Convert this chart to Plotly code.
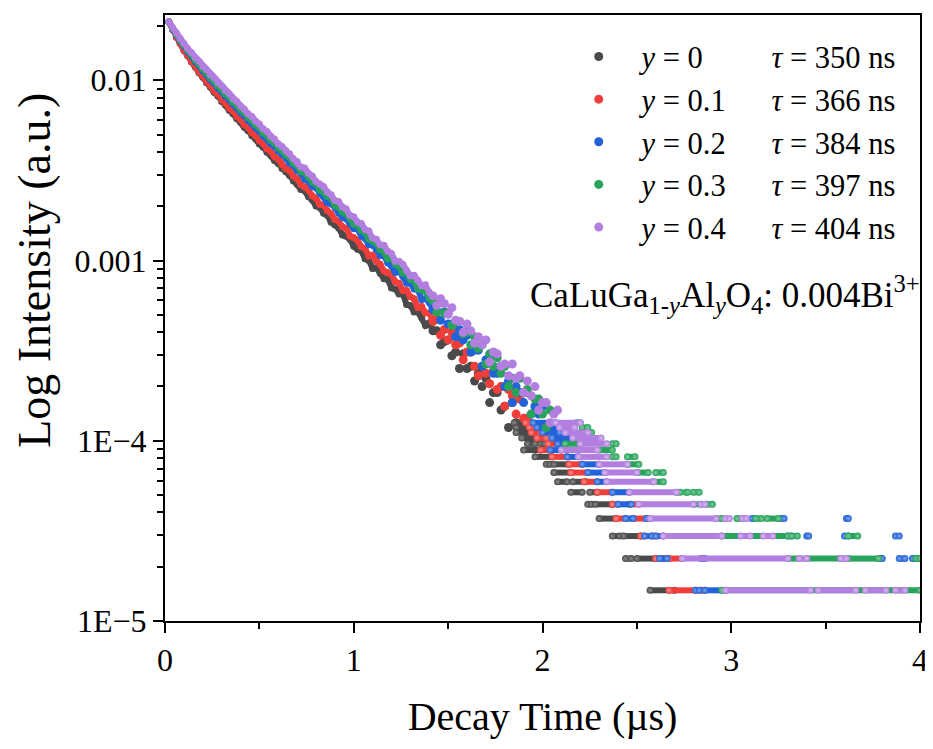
import plotly.graph_objects as go

# ---------------- data ----------------
t0_us = 0.02          # first sampled time (µs)
dt_us = 0.02          # sampling step of the dense part (µs)
count_unit = 7.4e-6   # normalised intensity of one photon count
smooth_until = 70     # index up to which the dense points merge into a ribbon

y_values = ["0", "0.1", "0.2", "0.3", "0.4"]
tau_ns = [350, 366, 384, 397, 404]
colors = ["#4a4a4a", "#ef3e3a", "#2262d8", "#27a35a", "#b27ee0"]
centers = ["#8c8c8c", "#f7908d", "#7ea3ea", "#7fcb9e", "#d8bdf0"]

# dense part: photon counts at t0 + k*dt
gray_counts = [2851, 2583, 2342, 2163, 1979, 1848, 1705, 1601, 1488, 1404, 1310, 1241, 1160, 1104, 1031, 985, 922, 881, 826, 791,
               741, 710, 666, 640, 598, 575, 539, 518, 485, 467, 437, 420, 400, 373, 358, 335, 329, 305, 293, 271, 266,
               247, 241, 220, 213, 205, 187, 184, 177, 162, 156, 153, 138, 135, 122, 123, 115, 107, 106, 95, 94,
               88, 88, 77, 76, 70, 70, 65, 59, 61, 55, 55, 46, 48, 49, 40, 42, 34, 41, 34, 35,
               29, 32, 27, 30, 22, 25, 25, 20, 21, 16, 22, 17]
red_counts = [2851, 2590, 2349, 2170, 1990, 1860, 1719, 1620, 1504, 1425, 1329, 1266, 1181, 1130, 1055, 1012, 946, 911, 851, 820,
              767, 740, 691, 668, 624, 604, 563, 546, 509, 494, 461, 437, 427, 398, 384, 357, 346, 333, 309, 299, 276,
              275, 255, 246, 228, 223, 208, 204, 185, 181, 175, 161, 157, 143, 145, 134, 129, 118, 116, 113, 103,
              101, 92, 92, 85, 83, 74, 75, 69, 69, 62, 64, 52, 56, 49, 54, 46, 47, 38, 42, 42,
              35, 31, 35, 32, 28, 33, 26, 27, 21, 26, 24, 19, 23, 18, 18]
blue_counts = [2851, 2611, 2428, 2237, 2100, 1946, 1841, 1716, 1630, 1522, 1452, 1361, 1300, 1221, 1170, 1098, 1053, 991, 951, 895,
               860, 809, 778, 733, 705, 663, 639, 600, 579, 545, 525, 500, 468, 456, 426, 413, 382, 372, 348, 342, 319,
               307, 283, 278, 267, 248, 234, 230, 217, 203, 202, 185, 179, 165, 164, 156, 144, 144, 131, 126, 116,
               118, 110, 101, 101, 94, 93, 82, 83, 79, 72, 71, 63, 70, 60, 60, 51, 56, 49, 52, 42,
               43, 43, 35, 38, 39, 32, 32, 35, 27, 29, 22, 27, 25, 22, 25, 19, 21, 19, 21]
green_counts = [2851, 2621, 2445, 2259, 2127, 1978, 1874, 1749, 1665, 1559, 1489, 1397, 1337, 1257, 1206, 1133, 1090, 1024, 986, 927,
                893, 840, 810, 762, 734, 692, 667, 628, 605, 570, 549, 520, 504, 468, 453, 421, 414, 391, 369, 360, 333,
                325, 306, 300, 273, 267, 251, 245, 230, 215, 214, 198, 193, 177, 173, 168, 155, 151, 138, 140, 129,
                125, 115, 115, 106, 105, 94, 93, 91, 83, 81, 70, 79, 69, 69, 59, 61, 62, 53, 54, 46,
                51, 44, 46, 36, 41, 35, 39, 32, 35, 27, 30, 25, 30, 25, 26, 19, 23, 23, 19, 16, 20]
purple_counts = [2851, 2640, 2476, 2300, 2171, 2028, 1926, 1805, 1720, 1615, 1545, 1452, 1393, 1310, 1259, 1185, 1139, 1072, 1032, 972,
                 936, 882, 851, 801, 772, 727, 702, 661, 638, 600, 580, 551, 529, 496, 478, 446, 441, 412, 398, 371, 359,
                 348, 324, 313, 291, 287, 268, 261, 240, 236, 221, 217, 201, 197, 180, 177, 165, 164, 152, 148, 134,
                 134, 129, 119, 111, 112, 105, 98, 99, 90, 86, 76, 83, 78, 68, 74, 63, 62, 54, 60, 55,
                 47, 51, 46, 49, 37, 42, 41, 35, 36, 31, 36, 30, 31, 25, 29, 24, 27, 20, 22, 22, 17, 19, 20]

# quantised tail: (count level, first time µs, last time µs) of each visible run of points
gray_tail = [(17, 1.85, 1.92), (16, 1.86, 1.93), (15, 1.86, 1.96), (14, 1.89, 1.98), (13, 1.92, 1.96), (13, 1.99, 2.01),
             (12, 1.90, 1.99), (11, 1.96, 2.05), (10, 2.02, 2.04), (10, 2.06, 2.14), (9, 2.06, 2.15), (8, 2.08, 2.13),
             (8, 2.16, 2.23), (7, 2.15, 2.21), (7, 2.25, 2.29), (6, 2.24, 2.26), (6, 2.28, 2.37), (5, 2.30, 2.39),
             (4, 2.37, 2.41), (4, 2.43, 2.52), (3, 2.44, 2.47), (3, 2.50, 2.60), (2, 2.57, 2.70)]
red_tail = [(17, 1.91, 1.94), (16, 1.93, 1.96), (15, 1.94, 1.99), (14, 1.97, 2.02), (13, 2.03, 2.08), (12, 1.99, 2.04),
            (11, 2.05, 2.13), (10, 2.14, 2.21), (9, 2.15, 2.24), (8, 2.22, 2.29), (7, 2.29, 2.37), (6, 2.37, 2.40),
            (6, 2.46, 2.51), (5, 2.39, 2.44), (5, 2.48, 2.55), (4, 2.52, 2.54), (4, 2.58, 2.60), (3, 2.60, 2.64),
            (3, 2.67, 2.74), (2, 2.67, 2.81), (2, 2.84, 2.86)]
blue_tail = [(17, 1.95, 2.07), (16, 1.97, 2.09), (15, 2.00, 2.09), (14, 2.05, 2.16), (13, 2.08, 2.12), (12, 2.04, 2.10),
             (11, 2.13, 2.19), (10, 2.21, 2.30), (9, 2.24, 2.33), (8, 2.29, 2.34), (7, 2.37, 2.46), (6, 2.40, 2.47),
             (5, 2.44, 2.48), (5, 2.55, 2.57), (5, 3.11, 3.13), (5, 3.26, 3.28), (5, 3.61, 3.62), (4, 2.54, 2.58),
             (4, 2.60, 2.64), (4, 3.30, 3.32), (4, 3.40, 3.41), (4, 3.60, 3.62), (4, 3.87, 3.89), (3, 2.62, 2.66),
             (3, 2.84, 2.86), (3, 3.79, 3.80), (3, 3.89, 3.92), (3, 3.96, 3.98), (2, 2.81, 2.83), (2, 2.86, 2.97)]
green_tail = [(17, 2.18, 2.20), (16, 2.21, 2.24), (15, 2.24, 2.26), (13, 2.12, 2.20), (13, 2.37, 2.39), (12, 2.30, 2.37),
              (11, 2.37, 2.39), (11, 2.45, 2.49), (10, 2.45, 2.51), (9, 2.50, 2.56), (9, 2.60, 2.64), (8, 2.585, 2.64),
              (7, 2.71, 2.73), (7, 2.76, 2.77), (7, 2.80, 2.83), (6, 2.80, 2.84), (6, 2.87, 2.90), (5, 2.92, 2.95),
              (5, 3.03, 3.06), (5, 3.13, 3.16), (5, 3.19, 3.25), (4, 2.95, 3.30), (4, 3.32, 3.35), (4, 3.62, 3.67),
              (3, 3.30, 3.36), (3, 3.40, 3.58), (3, 3.62, 3.78), (3, 3.98, 4.00), (2, 2.95, 4.00)]
purple_tail = [(17, 2.07, 2.20), (16, 2.09, 2.17), (15, 2.12, 2.24), (14, 2.16, 2.31), (13, 2.20, 2.34), (12, 2.10, 2.29),
               (11, 2.19, 2.34), (10, 2.30, 2.45), (9, 2.33, 2.50), (8, 2.34, 2.59), (7, 2.46, 2.71), (6, 2.51, 2.80),
               (6, 2.84, 2.86), (5, 2.57, 2.92), (5, 2.97, 2.99), (5, 3.06, 3.08), (4, 2.64, 2.95), (4, 3.05, 3.10),
               (4, 3.17, 3.22), (3, 2.74, 3.30), (3, 3.36, 3.40), (3, 3.58, 3.61), (2, 2.97, 3.42), (2, 3.46, 3.66),
               (2, 3.71, 3.82), (2, 3.87, 3.92)]

dense_sets = [gray_counts, red_counts, blue_counts, green_counts, purple_counts]
tail_sets = [gray_tail, red_tail, blue_tail, green_tail, purple_tail]

y_tick_vals = [1e-5, 1e-4, 1e-3, 1e-2]
y_tick_text = ["1E\u22125", "1E\u22124", "0.001", "0.01"]
x_tick_vals = [0, 1, 2, 3, 4]

FONT = "Liberation Serif"
NB = "\u00a0"

fig = go.Figure()
for i in range(5):
    counts = dense_sets[i]
    t = [round(t0_us + k * dt_us, 4) for k in range(len(counts))]
    inten = [c * count_unit for c in counts]
    pad = "\u2008\u2007" if len(y_values[i]) == 1 else ""
    name = (NB * 3 + "<i>y</i> = " + y_values[i] + pad + NB * 6 +
            "<i>\u03c4</i> = " + str(tau_ns[i]) + " ns")
    grad = dict(type="radial", color=centers[i])
    # upper, low-noise part: points overlap into a continuous ribbon
    fig.add_trace(go.Scatter(x=t[:smooth_until + 1], y=inten[:smooth_until + 1], mode="lines+markers",
                             marker=dict(size=7, color=colors[i], line=dict(width=0)),
                             line=dict(color=colors[i], width=6),
                             legendgroup=str(i), showlegend=False, hoverinfo="skip"))
    # lower, noisier part
    fig.add_trace(go.Scatter(x=t[smooth_until:], y=inten[smooth_until:], mode="markers",
                             marker=dict(size=9, color=colors[i], line=dict(width=0)),
                             name=name, legendgroup=str(i), showlegend=True, hoverinfo="skip"))
    tx, ty = [], []
    for (lvl, a, b) in tail_sets[i]:
        tx += [a, b, None]
        ty += [lvl * count_unit, lvl * count_unit, None]
    fig.add_trace(go.Scatter(x=tx, y=ty, mode="lines+markers",
                             marker=dict(size=7, color=colors[i], line=dict(width=0), gradient=grad),
                             line=dict(color=colors[i], width=6),
                             legendgroup=str(i), showlegend=False, hoverinfo="skip"))

minor_y = [m * 10.0 ** e for e in range(-5, -1) for m in range(2, 10)]

fig.update_layout(
    width=925, height=741,
    margin=dict(l=157, r=13, t=7, b=128, autoexpand=False),
    paper_bgcolor="white", plot_bgcolor="white",
    font=dict(family=FONT, size=32, color="black"),
    legend=dict(x=0.548, y=0.975, xanchor="left", yanchor="top",
                bgcolor="rgba(0,0,0,0)", font=dict(family=FONT, size=30.5),
                tracegroupgap=0),
    annotations=[
        dict(text="CaLuGa<sub>1-<i>y</i></sub>Al<sub><i>y</i></sub>O<sub>4</sub>: 0.004Bi<sup>3+</sup>",
             x=1.003, y=0.538, xref="paper", yref="paper", xanchor="right", yanchor="middle",
             showarrow=False, font=dict(family=FONT, size=35)),
        dict(text="Log Intensity (a.u.)", textangle=-90,
             x=-0.172, y=0.578, xref="paper", yref="paper", xanchor="center", yanchor="middle",
             showarrow=False, font=dict(family=FONT, size=46)),
    ],
)
fig.update_xaxes(
    range=[0, 4], tickvals=x_tick_vals, ticks="outside", ticklen=10, tickwidth=2,
    tickcolor="black", showline=True, linewidth=2, linecolor="black", mirror=True,
    showgrid=False, zeroline=False, automargin=False,
    minor=dict(ticks="outside", ticklen=6, tickwidth=2, tickcolor="black",
               tickvals=[0.5, 1.5, 2.5, 3.5], showgrid=False),
    tickfont=dict(family=FONT, size=32),
    title=dict(text="Decay Time (\u00b5s)", font=dict(family=FONT, size=40), standoff=25),
)
fig.update_yaxes(
    type="log", range=[-5, -1.638], tickvals=y_tick_vals, ticktext=y_tick_text,
    ticks="outside", ticklen=10, tickwidth=2, tickcolor="black",
    showline=True, linewidth=2, linecolor="black", mirror=True,
    showgrid=False, zeroline=False, automargin=False,
    minor=dict(ticks="outside", ticklen=6, tickwidth=2, tickcolor="black",
               tickvals=minor_y, showgrid=False),
    tickfont=dict(family=FONT, size=32),
)

fig.write_html("out.html")
